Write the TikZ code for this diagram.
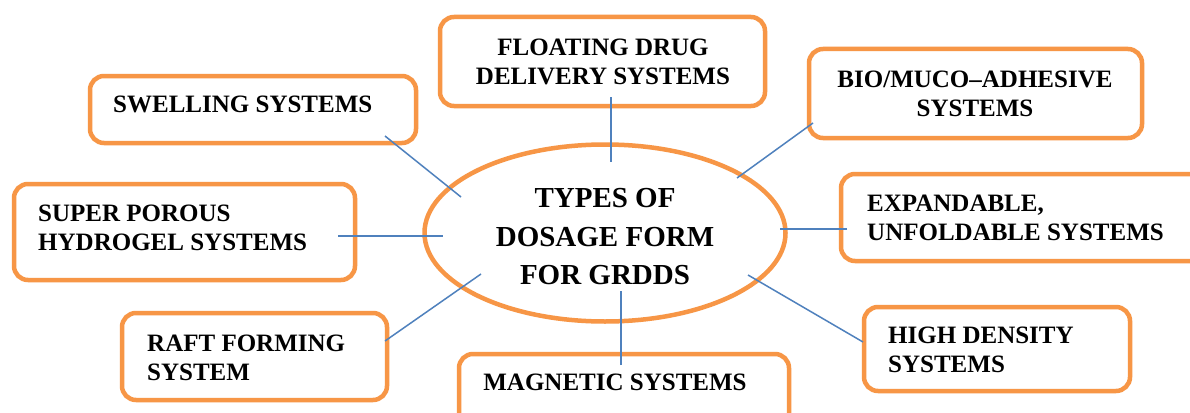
\documentclass[tikz,border=0pt]{standalone}
\usepackage{fontspec}
\setmainfont{Liberation Serif}
\usetikzlibrary{shapes.geometric}
\definecolor{boxorange}{HTML}{F79646}
\definecolor{lineblue}{HTML}{4F81BD}
\tikzset{
  gbox/.style={draw=boxorange, line width=4.5pt, rounded corners=14pt, fill=white, inner sep=0pt, rectangle},
  lbl/.style={inner sep=0pt, font=\fontsize{25}{29}\selectfont\bfseries, text=black},
  bigl/.style={inner sep=0pt, font=\fontsize{29}{38.5}\selectfont\bfseries, text=black, align=center},
  conn/.style={draw=lineblue, line width=1.5pt}
}
\begin{document}
\begin{tikzpicture}[x=1pt,y=-1pt]
\clip (0,0) rectangle (1190,412);
\fill[white] (0,0) rectangle (1190,412);
% boxes
\node[gbox, minimum width=326, minimum height=67] (swell) at (253,109.5) {};
\node[gbox, minimum width=341, minimum height=96] (spor) at (184.5,232) {};
\node[gbox, minimum width=265, minimum height=87] (raft) at (254.5,356.5) {};
\node[gbox, minimum width=325, minimum height=89] (float) at (602.5,61.5) {};
\node[gbox, minimum width=333, minimum height=89] (bio) at (975.5,93.5) {};
\node[gbox, minimum width=380, minimum height=87] (expa) at (1031,217.5) {};
\node[gbox, minimum width=266, minimum height=84] (high) at (997,349) {};
\node[gbox, minimum width=330, minimum height=90] (magn) at (624,399) {};
\node[ellipse, draw=boxorange, line width=4.5pt, fill=white, inner sep=0pt, minimum width=361, minimum height=177] (ell) at (605,233) {};
% labels
\node[lbl, anchor=west] (tswell) at (113,104) {SWELLING SYSTEMS};
\node[lbl, anchor=west, align=left] (tspor) at (38,228) {SUPER POROUS\\HYDROGEL SYSTEMS};
\node[lbl, anchor=west, align=left] (traft) at (147,357.5) {RAFT FORMING\\SYSTEM};
\node[lbl, align=center] (tfloat) at (603,62) {FLOATING DRUG\\DELIVERY SYSTEMS};
\node[lbl, align=center] (tbio) at (975,94) {BIO/MUCO--ADHESIVE\\SYSTEMS};
\node[lbl, anchor=west, align=left] (texpa) at (867,218) {EXPANDABLE,\\UNFOLDABLE SYSTEMS};
\node[lbl, anchor=west, align=left] (thigh) at (888,350) {HIGH DENSITY\\SYSTEMS};
\node[lbl] (tmagn) at (615,382) {MAGNETIC SYSTEMS};
\node[bigl] (tell) at (605,237) {TYPES OF\\DOSAGE FORM\\FOR GRDDS};
% connector ends
\coordinate (sw1) at (385,136); \coordinate (sw2) at (461,197);
\coordinate (sp1) at (338,236); \coordinate (sp2) at (443,236);
\coordinate (rf1) at (385,341); \coordinate (rf2) at (481,274);
\coordinate (fl1) at (611,97);  \coordinate (fl2) at (611,162);
\coordinate (bi1) at (813,123); \coordinate (bi2) at (737,178);
\coordinate (ex1) at (847,229); \coordinate (ex2) at (780,229);
\coordinate (hd1) at (863,342); \coordinate (hd2) at (748,275);
\coordinate (mg1) at (621,365); \coordinate (mg2) at (621,291);
\draw[conn] (sw1) -- (sw2);
\draw[conn] (sp1) -- (sp2);
\draw[conn] (rf1) -- (rf2);
\draw[conn] (fl1) -- (fl2);
\draw[conn] (bi1) -- (bi2);
\draw[conn] (ex1) -- (ex2);
\draw[conn] (hd1) -- (hd2);
\draw[conn] (mg1) -- (mg2);
\end{tikzpicture}
\end{document}
